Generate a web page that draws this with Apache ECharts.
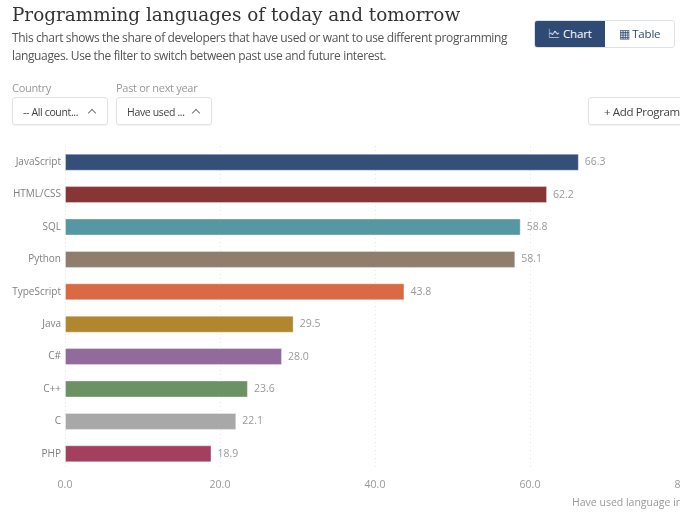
<!DOCTYPE html>
<html>
<head>
<meta charset="utf-8">
<script src="https://cdn.jsdelivr.net/npm/echarts@6/dist/echarts.min.js"></script>
<style>
  html, body { margin: 0; padding: 0; width: 680px; height: 528px; overflow: hidden; background: #fff; }
  body { position: relative; font-family: "Open Sans", "Noto Sans", sans-serif; color: #444; }
  .title { position: absolute; left: 12px; top: 4px; font-family: "DejaVu Serif", "Liberation Serif", serif; font-size: 18.4px; color: #333; white-space: nowrap; }
  .desc { position: absolute; left: 12px; top: 29px; width: 520px; font-size: 12px; letter-spacing: -0.37px; line-height: 18px; color: #555; }
  .toggle { position: absolute; left: 534px; top: 20px; width: 139px; height: 26px; border: 1px solid #dde2e8; border-radius: 3px; overflow: hidden; font-size: 11.5px; letter-spacing: -0.2px; }
  .toggle div { position: absolute; top: 0; height: 26px; line-height: 26px; text-align: center; }
  .toggle .on { left: 0; width: 70px; background: #2f4b74; color: #fff; }
  .toggle .off { left: 70px; width: 69px; color: #2f4b74; }
  .lbl { position: absolute; top: 80px; font-size: 11px; letter-spacing: -0.3px; color: #999; }
  .sel { position: absolute; top: 97px; height: 28px; line-height: 28px; border: 1px solid #e2e2e2; border-radius: 3px; box-shadow: 0 1px 2px rgba(0,0,0,0.06); font-size: 10.5px; letter-spacing: -0.35px; color: #444; box-sizing: border-box; padding-left: 10px; white-space: nowrap; overflow: hidden; }
  .chev { position: absolute; right: 12px; top: 12px; width: 5px; height: 5px; border-left: 1px solid #777; border-top: 1px solid #777; transform: rotate(45deg); }
  #chart { position: absolute; left: 0; top: 0; width: 800px; height: 528px; }
</style>
</head>
<body>
<div id="chart"></div>
<div class="title">Programming languages of today and tomorrow</div>
<div class="desc">This chart shows the share of developers that have used or want to use different programming languages. Use the filter to switch between past use and future interest.</div>
<div class="toggle"><div class="on">&#x1F5E0; Chart</div><div class="off">&#x25A6; Table</div></div>
<div class="lbl" style="left:12px">Country</div>
<div class="lbl" style="left:116px">Past or next year</div>
<div class="sel" style="left:12px;width:96px">-- All count...<i class="chev"></i></div>
<div class="sel" style="left:116px;width:96px">Have used ...<i class="chev"></i></div>
<div class="sel" style="left:588px;width:120px;padding-left:15px;font-size:11.5px">+ Add Programming language</div>
<script>
var languages = ['JavaScript', 'HTML/CSS', 'SQL', 'Python', 'TypeScript', 'Java', 'C#', 'C++', 'C', 'PHP'];
var shares = [66.3, 62.2, 58.8, 58.1, 43.8, 29.5, 28.0, 23.6, 22.1, 18.9];
var barColors = ['#344f78', '#873535', '#5597a3', '#907d6d', '#d96a44', '#b0872f', '#906b9b', '#6a9263', '#a8a8a8', '#a3405f'];
var xTicks = [0, 20, 40, 60, 80];

(function(){
	var myChart = echarts.init(document.getElementById('chart'));
	var option = {
		animation: false,
		grid: {
			left: 65,
			top: 146,
			width: 620,
			height: 324
		},
		xAxis: {
			type: 'value',
			min: xTicks[0],
			max: xTicks[xTicks.length - 1],
			interval: xTicks[1] - xTicks[0],
			name: 'Have used language in the past year',
			nameLocation: 'end',
			nameGap: -113,
			nameTextStyle: {
				color: '#999',
				fontSize: 10.5,
				fontFamily: 'Open Sans',
				align: 'left',
				verticalAlign: 'top',
				padding: [28, 0, 0, 0]
			},
			axisLine: { show: false },
			axisTick: { show: false },
			axisLabel: {
				color: '#999',
				fontSize: 10.5,
				fontFamily: 'Open Sans',
				margin: 10,
				formatter: function (v) { return v.toFixed(1); }
			},
			splitLine: {
				show: true,
				lineStyle: { color: '#e6e6e6', type: [1, 3] }
			}
		},
		yAxis: {
			type: 'category',
			inverse: true,
			data: languages,
			axisLine: { show: false },
			axisTick: { show: false },
			axisLabel: {
				color: '#808080',
				fontSize: 10,
				fontFamily: 'Open Sans',
				margin: 4
			}
		},
		series: [
			{
				type: 'bar',
				barWidth: 17,
				data: shares.map(function (v, i) {
					return {
						value: v,
						itemStyle: { color: barColors[i], borderColor: 'rgba(255,255,255,0.35)', borderWidth: 1 }
					};
				}),
				label: {
					show: true,
					position: 'right',
					distance: 6,
					color: '#999',
					fontSize: 10.5,
					fontFamily: 'Open Sans',
					formatter: function (p) { return p.value.toFixed(1); }
				}
			}
		]
	};
	myChart.setOption(option);
})();
</script>
</body>
</html>
